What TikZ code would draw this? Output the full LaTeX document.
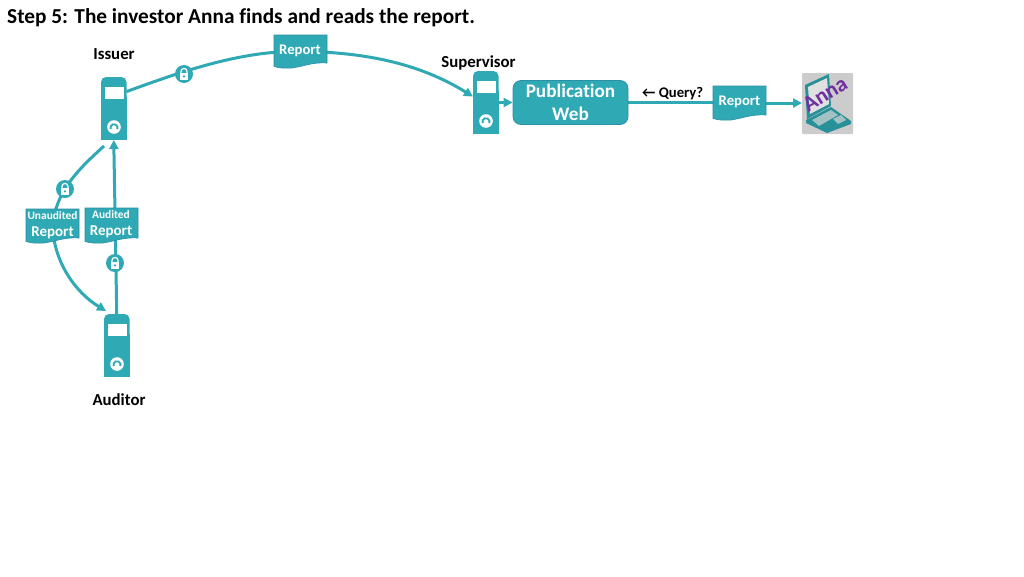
\documentclass[tikz,border=0pt]{standalone}
\usepackage{fontspec}
\setmainfont[RawFeature={-liga}]{Carlito}
\usetikzlibrary{arrows.meta}
\definecolor{tealm}{HTML}{2FA9B3}
\definecolor{edgem}{HTML}{2B8FA5}
\definecolor{annap}{HTML}{7030A0}
\pgfdeclarelayer{wires}
\pgfsetlayers{wires,main}
\tikzset{
  conn/.style={draw=tealm,line width=3pt,line cap=butt},
  arr/.style={conn,-{Triangle[length=9pt,width=9pt]}},
  lab/.style={font=\fontsize{16.8}{18}\selectfont\bfseries,text=black,inner sep=0pt},
  frame/.style={inner sep=0pt,outer sep=0pt,draw=none},
  wtxt/.style={text=white,inner sep=0pt,align=center},
  lockn/.style={circle,fill=tealm,minimum size=18pt,inner sep=0pt,outer sep=0pt,
    path picture={
      \begin{scope}[shift={(path picture bounding box.center)}]
        \fill[white] (-4.4,-0.8) rectangle (4.4,5.6);
        \draw[white,line width=1.2pt] (-3,-0.8) -- (-3,-2.6) arc[start angle=180,end angle=360,radius=3] -- (3,-0.8);
        \fill[tealm] (0,2.3) circle (1.2);
      \end{scope}}},
}
\newcommand{\devicen}[3]{% name, left, top
  \node[frame,minimum width=25.5pt,minimum height=63pt,anchor=north west] (#1) at (#2,#3) {};
  \begin{scope}[shift={(#2,#3)}]
    \fill[tealm,rounded corners=5pt] (0,30) -- (0,0) -- (25.5,0) -- (25.5,30) -- cycle;
    \fill[tealm] (0,20) rectangle (25.5,63);
    \fill[white] (3.5,10) rectangle (22.5,21.5);
    \fill[white] (13,50) circle (6.8);
    \draw[tealm,line width=1.8pt] (9.6,52) arc[start angle=160,end angle=380,radius=3.6];
  \end{scope}}
\newcommand{\docn}[5]{% name, x1, y1, x2, y2
  \fill[tealm,draw=edgem,line width=0.6pt] (#2,#3) -- (#4,#3) -- (#4,#5-5)
     .. controls (#4-14,#5-6) and (#4-22,#5-2) .. (#2+18,#5)
     .. controls (#2+10,#5+0.5) and (#2+5,#5) .. (#2,#5-1.5) -- cycle;
  \node[frame,minimum width=#4pt-#2pt,minimum height=#5pt-#3pt] (#1) at ({(#2+#4)/2},{(#3+#5)/2}) {};}
\begin{document}
\begin{tikzpicture}[x=1pt,y=-1pt]
\useasboundingbox (0,0) rectangle (1024,576);

\node[inner sep=0pt,anchor=west,font=\fontsize{21.3}{23}\selectfont\bfseries] (title) at (7,18) {Step 5: The investor Anna finds and reads the report.};
\node[lab] (issuerl) at (114,54.5) {Issuer};
\node[lab] (superl) at (478.5,62.5) {Supervisor};
\node[lab] (auditl) at (119,400) {Auditor};

\devicen{issuer}{101}{77}
\devicen{super}{473}{71}
\devicen{audit}{104}{314}

\docn{repa}{274}{35}{327}{68}
\node[wtxt,font=\fontsize{14.7}{16}\selectfont\bfseries] (repat) at (300,50.5) {Report};
\docn{repb}{713}{86}{766}{120}
\node[wtxt,font=\fontsize{14.7}{16}\selectfont\bfseries] (repbt) at (739.5,101.5) {Report};
\docn{repu}{26}{209}{79}{243}
\node[wtxt,font=\fontsize{11.4}{12}\selectfont\bfseries] (repu1) at (52.5,215.5) {Unaudited};
\node[wtxt,font=\fontsize{15}{17}\selectfont\bfseries] (repu2) at (52.5,232.5) {Report};
\docn{repd}{85}{208}{138}{243}
\node[wtxt,font=\fontsize{11.4}{12}\selectfont\bfseries] (repd1) at (111,214.5) {Audited};
\node[wtxt,font=\fontsize{15}{17}\selectfont\bfseries] (repd2) at (111,231.5) {Report};

\node[lockn] (locka) at (184,74) {};
\node[lockn] (lockb) at (65,189) {};
\node[lockn] (lockc) at (115,263) {};

\node[rectangle,rounded corners=8pt,fill=tealm,draw=edgem,line width=0.8pt,minimum width=115pt,minimum height=44pt,inner sep=0pt,text=white,align=center,font=\fontsize{19.2}{23}\selectfont\bfseries] (pub) at (570.5,102.5) {\raisebox{-1pt}{Publication}\\\raisebox{-1pt}{Web}};

\node[inner sep=0pt,anchor=west,font=\fontsize{14.7}{16}\selectfont\bfseries] (query) at (642,94) {← Query?};

% Anna's laptop
\node[frame,fill=black!20,rounded corners=1pt,minimum width=51pt,minimum height=61pt] (anna) at (827.5,103.5) {};
\fill[tealm!85!black] (805,85) -- (829,74) -- (831,106) -- (807,119) -- cycle;
\fill[black!12] (808,87) -- (827,78) -- (829,104) -- (810,114) -- cycle;
\fill[tealm!85!black] (806,120) -- (831,107) -- (851,121) -- (851,124) -- (827,133) -- (806,123) -- cycle;
\fill[tealm!60!black!40!white] (812,120) -- (831,110) -- (838,115) -- (819,126) -- cycle;
\fill[tealm!60!black!40!white] (833,119) -- (841,115) -- (846,120) -- (838,124) -- cycle;
\node[rotate=32,text=annap,inner sep=0pt,font=\fontsize{22}{24}\selectfont\bfseries] (annat) at (825,94) {Anna};

\begin{pgfonlayer}{wires}
\draw[conn] (issuer.53) .. controls (locka.west) and (240,50) .. (repa.center);
\draw[arr] (repa.center) .. controls (380,52) and (430,70) .. (super.155);
\draw[arr] (super.east) -- (pub.west);
\draw[conn] (pub.east) -- (pub.east -| repb.west);
\draw[arr] (repb.east) -- (repb.east -| anna.west);
\draw[arr] (audit.north) -- (issuer.south);
\coordinate (ustart) at (104,146);
\coordinate (uend) at (106,311);
\draw[conn] (ustart) .. controls (80,168) and (56,190) .. (repu.center);
\draw[arr] (repu.center) .. controls (54,262) and (75,292) .. (uend);
\end{pgfonlayer}
\end{tikzpicture}
\end{document}
